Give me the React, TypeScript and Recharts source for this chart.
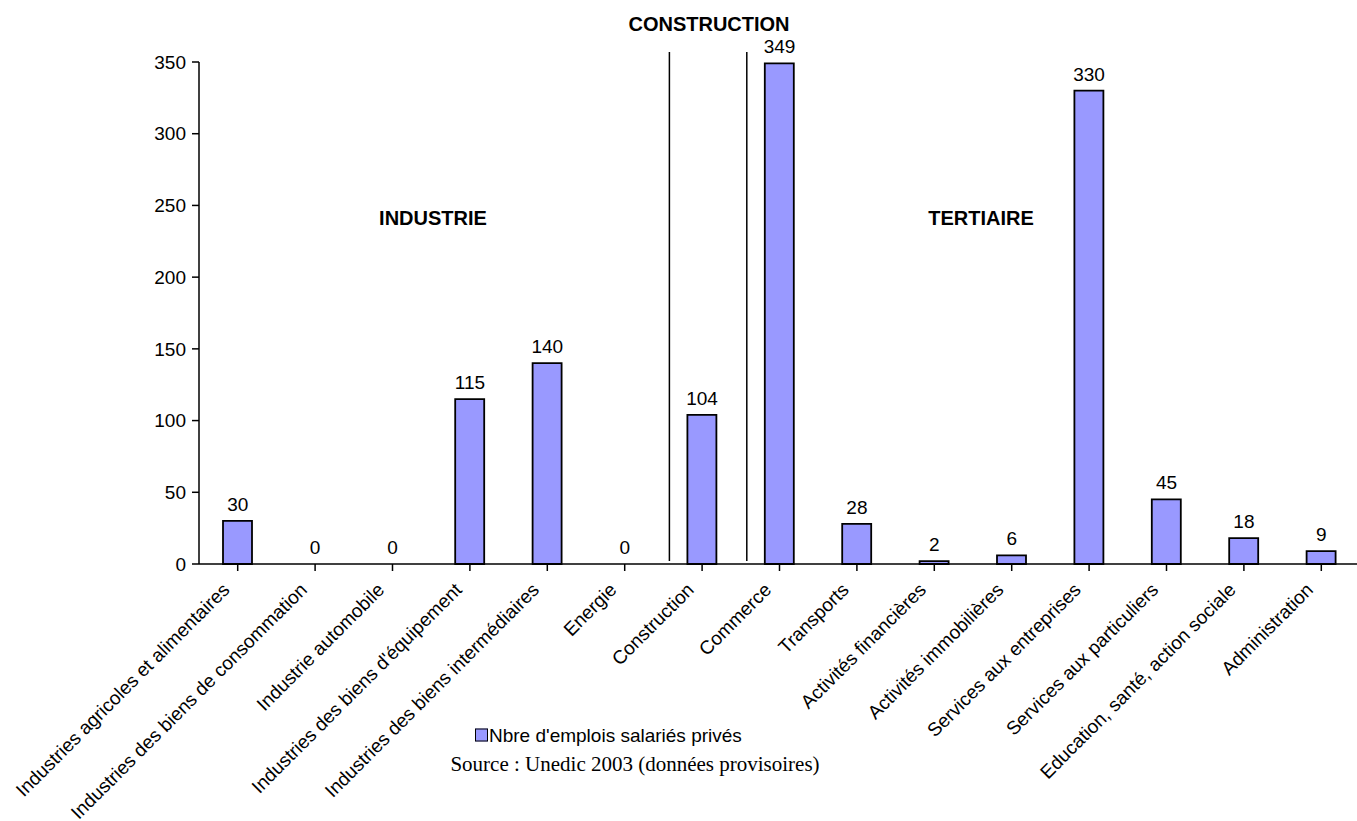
import React from 'react';
import {
  ComposedChart,
  Bar,
  Line,
  XAxis,
  YAxis,
  LabelList,
  ReferenceLine,
} from 'recharts';

// Emplois salariés privés par secteur (Unedic 2003)
const categories = [
  'Industries agricoles et alimentaires',
  'Industries des biens de consommation',
  'Industrie automobile',
  "Industries des biens d'équipement",
  'Industries des biens intermédiaires',
  'Energie',
  'Construction',
  'Commerce',
  'Transports',
  'Activités financières',
  'Activités immobilières',
  'Services aux entreprises',
  'Services aux particuliers',
  'Education, santé, action sociale',
  'Administration',
];

const emplois = [30, 0, 0, 115, 140, 0, 104, 349, 28, 2, 6, 330, 45, 18, 9];

const yTicks = [0, 50, 100, 150, 200, 250, 300, 350];

// the construction sector is framed by two vertical rules
const separatorCategories = ['Construction', 'Commerce'];

const data = categories.map((name, i) => ({ name, emplois: emplois[i] }));

const SANS = '"Liberation Sans", Arial, sans-serif';

const CategoryTick = (props: any) => {
  const { x, y, payload } = props;
  return (
    <g transform={`translate(${x - 7},${y + 18}) rotate(-45)`}>
      <text
        x={0}
        y={0}
        textAnchor="end"
        fontFamily={SANS}
        fontSize={19}
        fill="#000"
      >
        {payload.value}
      </text>
    </g>
  );
};

// rule drawn slightly right of the band start, a bit taller than the plot
const SeparatorLine = (props: any) => {
  const { x1, y1, x2, y2 } = props;
  const top = Math.min(y1, y2);
  const bottom = Math.max(y1, y2);
  return (
    <line
      x1={x1 + 6}
      x2={x2 + 6}
      y1={top - 10}
      y2={bottom - 3}
      stroke="#000"
      strokeWidth={1.5}
    />
  );
};

const sectionStyle: React.CSSProperties = {
  position: 'absolute',
  transform: 'translate(-50%, -50%)',
  fontFamily: SANS,
  fontWeight: 'bold',
  fontSize: 20,
  lineHeight: 1,
  whiteSpace: 'nowrap',
  color: '#000',
};

export default function App() {
  return (
    <div
      style={{
        position: 'absolute',
        left: 0,
        top: 0,
        width: 1357,
        height: 821,
        overflow: 'hidden',
        background: '#fff',
      }}
    >
      <ComposedChart
        width={1360}
        height={821}
        data={data}
        margin={{ top: 62, right: 0, left: 139, bottom: 7 }}
      >
        <XAxis
          dataKey="name"
          interval={0}
          height={250}
          tick={<CategoryTick />}
          tickSize={7}
          axisLine={{ stroke: '#000', strokeWidth: 1.5 }}
          tickLine={{ stroke: '#000', strokeWidth: 1.5 }}
        />
        <YAxis
          width={60}
          domain={[0, 350]}
          ticks={yTicks}
          interval={0}
          tickSize={7}
          tickMargin={6}
          axisLine={{ stroke: '#000', strokeWidth: 1.5 }}
          tickLine={{ stroke: '#000', strokeWidth: 1.5 }}
          tick={{ fill: '#000', fontFamily: SANS, fontSize: 19 }}
        />
        {separatorCategories.map((c) => (
          <ReferenceLine
            key={c}
            x={c}
            position="start"
            ifOverflow="visible"
            shape={<SeparatorLine />}
          />
        ))}
        <Bar
          dataKey="emplois"
          barSize={29}
          fill="#9999FF"
          stroke="#000"
          strokeWidth={1.8}
          isAnimationActive={false}
        />
        {/* invisible series carrying the value labels, so zeros get one too */}
        <Line
          dataKey="emplois"
          stroke="none"
          dot={false}
          activeDot={false}
          legendType="none"
          isAnimationActive={false}
        >
          <LabelList
            dataKey="emplois"
            position="top"
            offset={10}
            fill="#000"
            fontFamily={SANS}
            fontSize={19}
          />
        </Line>
      </ComposedChart>

      <div style={{ ...sectionStyle, left: 433, top: 218 }}>INDUSTRIE</div>
      <div style={{ ...sectionStyle, left: 981, top: 218 }}>TERTIAIRE</div>
      <div style={{ ...sectionStyle, left: 709, top: 24 }}>CONSTRUCTION</div>

      <div
        style={{
          position: 'absolute',
          left: 475,
          top: 735,
          transform: 'translateY(-50%)',
          display: 'flex',
          alignItems: 'center',
          fontFamily: SANS,
          fontSize: 19,
          lineHeight: 1,
          whiteSpace: 'nowrap',
        }}
      >
        <span
          style={{
            display: 'inline-block',
            width: 11,
            height: 11,
            background: '#9999FF',
            border: '1px solid #000',
            marginRight: 1,
          }}
        />
        Nbre d'emplois salariés privés
      </div>
      <div
        style={{
          position: 'absolute',
          left: 635,
          top: 764,
          transform: 'translate(-50%, -50%)',
          fontFamily: '"Liberation Serif", "Times New Roman", serif',
          fontSize: 21,
          lineHeight: 1,
          whiteSpace: 'nowrap',
        }}
      >
        Source : Unedic 2003 (données provisoires)
      </div>
    </div>
  );
}
